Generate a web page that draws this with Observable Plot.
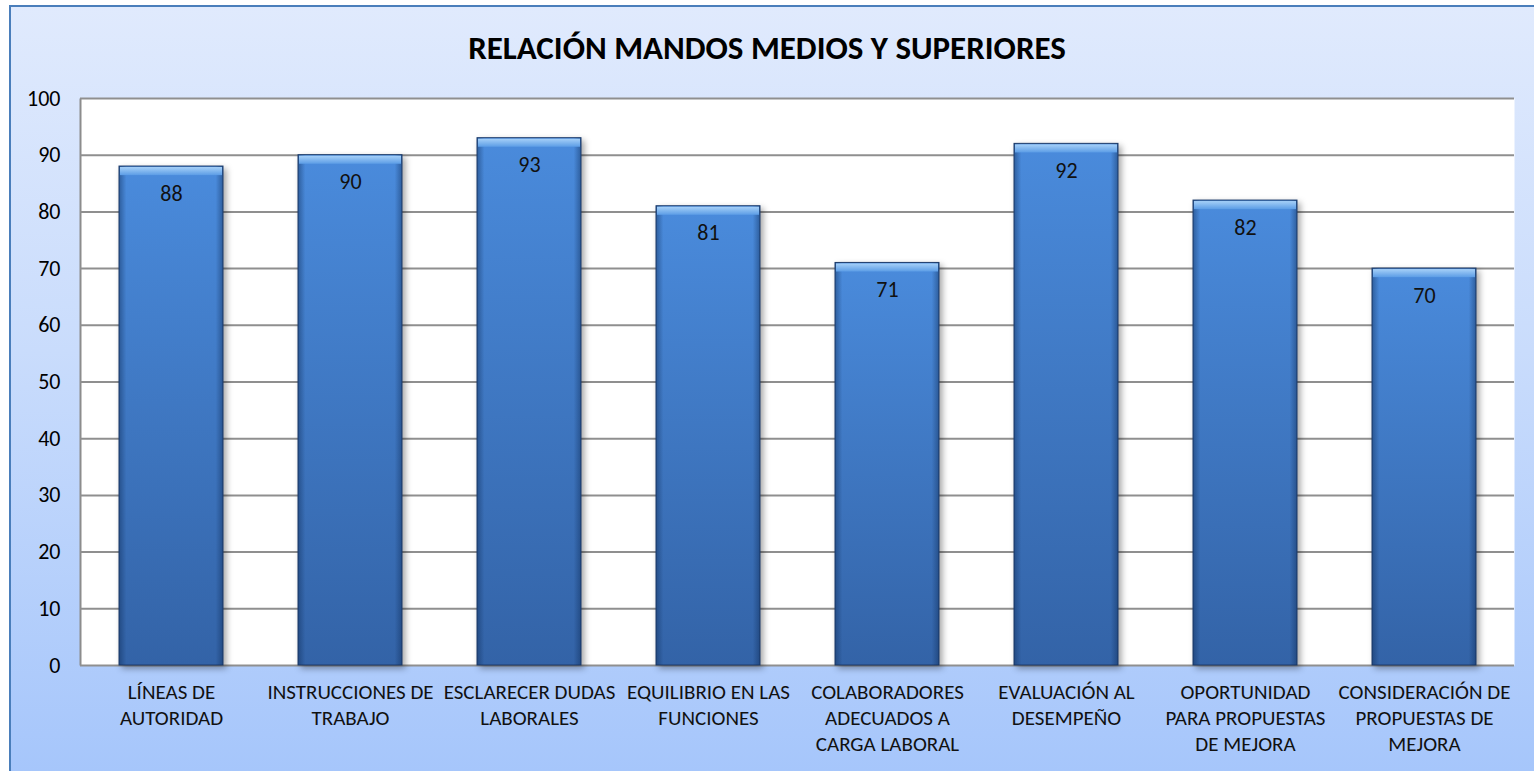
<!DOCTYPE html>
<html>
<head>
<meta charset="utf-8">
<script src="https://cdn.jsdelivr.net/npm/d3@7"></script>
<script src="https://cdn.jsdelivr.net/npm/@observablehq/plot@0.6"></script>
<style>
  html, body { margin: 0; padding: 0; background: #ffffff; }
  #bg {
    position: absolute; left: 9px; top: 5px; width: 1525px; height: 766px;
    box-sizing: border-box; border-left: 2px solid #4a7ebb; border-top: 2px solid #4a7ebb;
    background: linear-gradient(to bottom, #e0eafd 0%, #c9dcfc 45%, #a6c6fb 100%);
  }
  #content { position: absolute; left: 0; top: 0; width: 1534px; }
  #title {
    height: 80px; line-height: 96px; text-align: center;
    font-family: Carlito, Lato, "Open Sans", sans-serif; font-weight: bold; font-size: 33px; color: #000;
  }
  svg { display: block; }
</style>
</head>
<body>
<div id="bg"></div>
<div id="content">
  <div id="title">RELACIÓN MANDOS MEDIOS Y SUPERIORES</div>
  <div id="chart"></div>
</div>
<script>
const categories = [
  "LÍNEAS DE AUTORIDAD",
  "INSTRUCCIONES DE TRABAJO",
  "ESCLARECER DUDAS LABORALES",
  "EQUILIBRIO EN LAS FUNCIONES",
  "COLABORADORES ADECUADOS A CARGA LABORAL",
  "EVALUACIÓN AL DESEMPEÑO",
  "OPORTUNIDAD PARA PROPUESTAS DE MEJORA",
  "CONSIDERACIÓN DE PROPUESTAS DE MEJORA"
];
const tickLabels = [
  "LÍNEAS DE\nAUTORIDAD",
  "INSTRUCCIONES DE\nTRABAJO",
  "ESCLARECER DUDAS\nLABORALES",
  "EQUILIBRIO EN LAS\nFUNCIONES",
  "COLABORADORES\nADECUADOS A\nCARGA LABORAL",
  "EVALUACIÓN AL\nDESEMPEÑO",
  "OPORTUNIDAD\nPARA PROPUESTAS\nDE MEJORA",
  "CONSIDERACIÓN DE\nPROPUESTAS DE\nMEJORA"
];
const values = [88, 90, 93, 81, 71, 92, 82, 70];
const yTicks = [0, 10, 20, 30, 40, 50, 60, 70, 80, 90, 100];

const data = categories.map((c, i) => ({cat: c, value: values[i], label: tickLabels[i]}));

const W = 1534, H = 691, mL = 80, mR = 20, mT = 18, mB = 106;
const fw = W - mL - mR, fh = H - mT - mB;
const font = "Carlito, Lato, 'Open Sans', sans-serif";

const svg = Plot.plot({
  width: W, height: H,
  marginLeft: mL, marginRight: mR, marginTop: mT, marginBottom: mB,
  style: {background: "transparent", fontFamily: font, fontSize: "22px", color: "#000", overflow: "visible"},
  x: {domain: categories, paddingInner: 0.42, paddingOuter: 0.21, axis: null},
  y: {domain: [0, 100], ticks: yTicks, tickSize: 0, tickPadding: 20, label: null, tickFormat: d => String(d)},
  marks: [
    Plot.frame({fill: "white", stroke: "#8c8c8c", strokeWidth: 2, strokeDasharray: `0 ${2 * fw + fh} ${fh}`}),
    Plot.ruleY(yTicks, {stroke: "#8f8f8f", strokeWidth: 2}),
    Plot.barY(data, {x: "cat", y: "value", fill: "url(#barGrad)", stroke: "#1f3d6c", strokeWidth: 1}),
    Plot.barY(data, {x: "cat", y: "value", fill: "url(#sideGrad)"}),
    Plot.barY(data, {x: "cat", y1: d => d.value - 1.6, y2: "value", fill: "url(#bevelGrad)", insetLeft: 1, insetRight: 1, insetTop: 1}),
    Plot.text(data, {x: "cat", y: "value", text: d => String(d.value), dy: 27, fontSize: 22, fill: "#111"}),
    Plot.text(data, {x: "cat", y: 0, text: "label", lineAnchor: "top", dy: 15, lineHeight: 1.24, fontSize: 21, fill: "#111"})
  ]
});

const defs = d3.select(svg).insert("defs", ":first-child");
const g1 = defs.append("linearGradient").attr("id", "barGrad").attr("x1", 0).attr("y1", 0).attr("x2", 0).attr("y2", 1);
g1.append("stop").attr("offset", "0%").attr("stop-color", "#4a8bdc");
g1.append("stop").attr("offset", "100%").attr("stop-color", "#3363a7");
const g2 = defs.append("linearGradient").attr("id", "sideGrad").attr("x1", 0).attr("y1", 0).attr("x2", 1).attr("y2", 0);
g2.append("stop").attr("offset", "0%").attr("stop-color", "#0d2a55").attr("stop-opacity", 0.45);
g2.append("stop").attr("offset", "7%").attr("stop-color", "#0d2a55").attr("stop-opacity", 0);
g2.append("stop").attr("offset", "93%").attr("stop-color", "#0d2a55").attr("stop-opacity", 0);
g2.append("stop").attr("offset", "100%").attr("stop-color", "#0d2a55").attr("stop-opacity", 0.45);
const g3 = defs.append("linearGradient").attr("id", "bevelGrad").attr("x1", 0).attr("y1", 0).attr("x2", 0).attr("y2", 1);
g3.append("stop").attr("offset", "0%").attr("stop-color", "#a6d0f8");
g3.append("stop").attr("offset", "100%").attr("stop-color", "#5c9de6");

const bars = svg.querySelectorAll('g[aria-label="bar"]');
if (bars.length) bars[0].style.filter = "drop-shadow(3px 3px 3px rgba(0,0,0,0.35))";

document.getElementById("chart").appendChild(svg);
</script>
</body>
</html>
